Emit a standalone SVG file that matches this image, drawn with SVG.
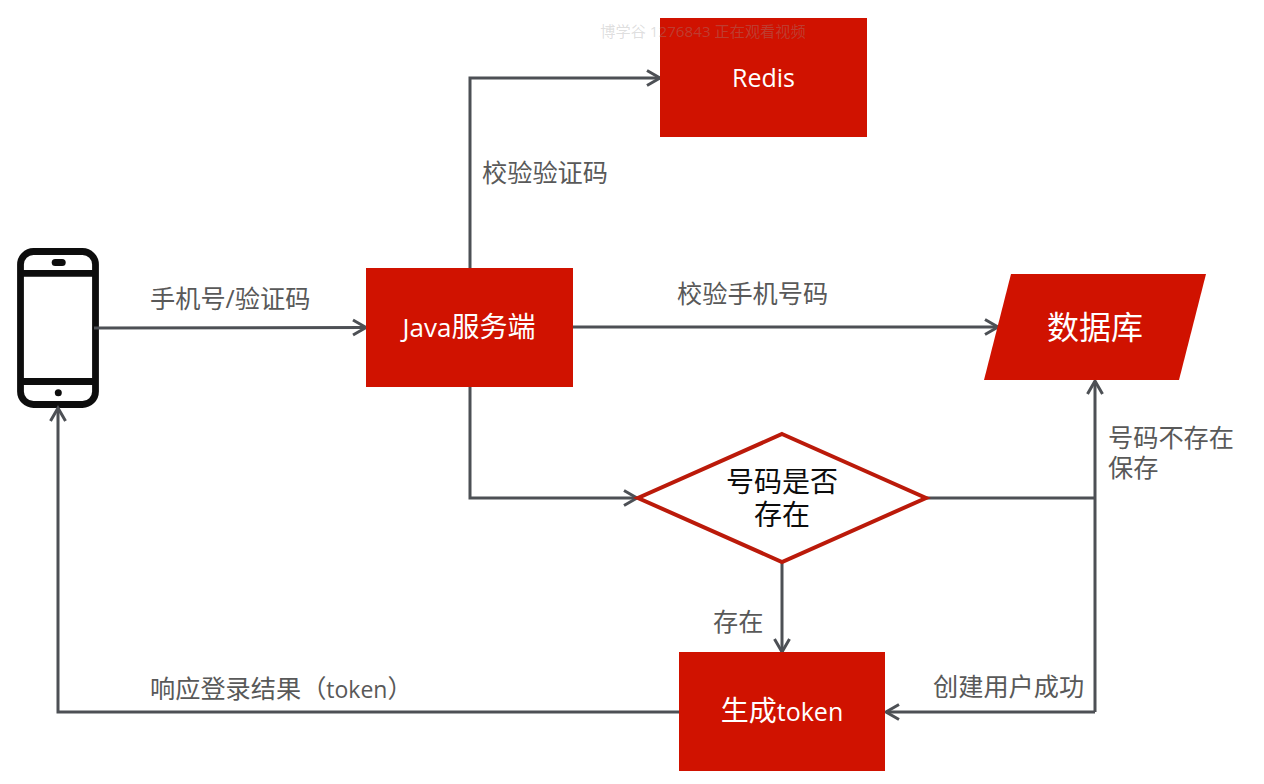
<svg xmlns="http://www.w3.org/2000/svg" width="1264" height="784" viewBox="0 0 1264 784">
<style>
text{font-family:"Open Sans","Noto Sans CJK SC",sans-serif}
.b{fill:#d01200}
.w{fill:#fff;text-anchor:middle}
.l{fill:#595959;font-size:25.200px}
.c{fill:none;stroke:#4d5055;stroke-width:3}
</style>
<defs>
<marker id="a" markerUnits="userSpaceOnUse" markerWidth="20" markerHeight="20" refX="15" refY="10" orient="auto"><path d="M2 2.500L15 10L2 17.500" fill="none" stroke="#4d5055" stroke-width="3"/></marker>
</defs>
<rect width="1264" height="784" fill="#fff"/>
<g id="phone">
<rect x="20.500" y="251.500" width="75" height="153" rx="13" fill="#fff" stroke="#0d0d0d" stroke-width="6.800"/>
<path d="M21 273.300H95M21 381.500H95" stroke="#0d0d0d" stroke-width="6.800"/>
<rect x="51.700" y="259" width="14" height="7" rx="3.500" fill="#0d0d0d"/>
<circle cx="58.300" cy="392.700" r="3.500" fill="#0d0d0d"/>
</g>
<g id="connectors" class="c">
<path d="M470 268V78H660" marker-end="url(#a)"/>
<path d="M94 328L366 327.500" marker-end="url(#a)"/>
<path d="M573 327H998" marker-end="url(#a)"/>
<path d="M470 387V498H637" marker-end="url(#a)"/>
<path d="M926 498H1095"/>
<path d="M1095 712V381" marker-end="url(#a)"/>
<path d="M1095 712H886" marker-end="url(#a)"/>
<path d="M782 562V652" marker-end="url(#a)"/>
<path d="M679 712H58V408" marker-end="url(#a)"/>
</g>
<g id="redis">
<rect class="b" x="660" y="18" width="207" height="119"/>
<text class="w" x="763.500" y="87" font-size="25">Redis</text>
</g>
<g id="java">
<rect class="b" x="366" y="268" width="207" height="119"/>
<text class="w" x="469" y="337" font-size="28"><tspan font-size="26">Java</tspan>服务端</text>
</g>
<g id="db">
<path class="b" d="M1011 274H1206L1179 380H984Z"/>
<text class="w" x="1095" y="339" font-size="32">数据库</text>
</g>
<g id="decision">
<path d="M782 434L926 498L782 562L638 498Z" fill="#fff" stroke="#bb1a0a" stroke-width="4"/>
<text font-size="28" text-anchor="middle" fill="#0d0d0d"><tspan x="782" y="492">号码是否</tspan><tspan x="782" y="525">存在</tspan></text>
</g>
<g id="token">
<rect class="b" x="679" y="652" width="206" height="119"/>
<text class="w" x="782" y="721" font-size="28">生成<tspan font-size="25">token</tspan></text>
</g>
<g id="labels">
<text class="l" x="482" y="182">校验验证码</text>
<text class="l" x="150" y="308">手机号/验证码</text>
<text class="l" x="677" y="303">校验手机号码</text>
<text class="l" x="1108" y="447">号码不存在</text>
<text class="l" x="1108" y="477">保存</text>
<text class="l" x="713" y="631">存在</text>
<text class="l" x="933" y="696">创建用户成功</text>
<text class="l" x="150" y="698">响应登录结果（<tspan font-size="23">token</tspan>）</text>
</g>
<text x="703" y="37" font-size="15.200" text-anchor="middle" fill="#999" fill-opacity=".32">博学谷 1276843 正在观看视频</text>
</svg>
